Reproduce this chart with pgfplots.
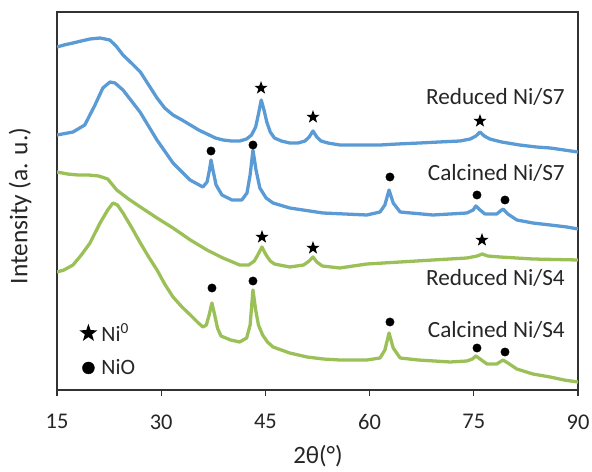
\documentclass[border=0pt]{standalone}
\usepackage{pgfplots}
\pgfplotsset{compat=1.18}
\usepackage{fontspec}
\setmainfont{Carlito}
\definecolor{cblue}{RGB}{91,155,213}
\definecolor{cgreen}{RGB}{155,192,88}
\definecolor{txt}{RGB}{38,38,38}
\definecolor{axisgray}{RGB}{50,50,50}
\pgfdeclareplotmark{fstar}{%
  \pgfpathmoveto{\pgfpointpolar{90}{\pgfplotmarksize}}%
  \pgfpathlineto{\pgfpointpolar{126}{0.4\pgfplotmarksize}}%
  \pgfpathlineto{\pgfpointpolar{162}{\pgfplotmarksize}}%
  \pgfpathlineto{\pgfpointpolar{198}{0.4\pgfplotmarksize}}%
  \pgfpathlineto{\pgfpointpolar{234}{\pgfplotmarksize}}%
  \pgfpathlineto{\pgfpointpolar{270}{0.4\pgfplotmarksize}}%
  \pgfpathlineto{\pgfpointpolar{306}{\pgfplotmarksize}}%
  \pgfpathlineto{\pgfpointpolar{342}{0.4\pgfplotmarksize}}%
  \pgfpathlineto{\pgfpointpolar{18}{\pgfplotmarksize}}%
  \pgfpathlineto{\pgfpointpolar{54}{0.4\pgfplotmarksize}}%
  \pgfpathclose
  \pgfusepathqfill
}
\begin{document}
\begin{tikzpicture}
\path[use as bounding box] (-57bp,-82bp) rectangle (535bp,390bp);
\begin{axis}[
  at={(0,0)}, anchor=south west,
  scale only axis, width=521bp, height=378bp,
  xmin=15, xmax=90, ymin=0, ymax=378,
  xtick={15,30,45,60,75,90},
  ytick=\empty,
  axis line style={draw=axisgray, line width=1.6pt},
  tick style={draw=axisgray, line width=1.2pt},
  xtick pos=lower,
  tick align=outside,
  major tick length=6bp,
  /pgf/number format/assume math mode=true,
  tick label style={font=\fontsize{22.5}{27}\selectfont, text=txt},
  xticklabel style={yshift=-15bp},
  xlabel={2θ(°)},
  ylabel={Intensity (a. u.)},
  xlabel style={font=\fontsize{25}{30}\selectfont, text=txt,
    at={(axis description cs:0.501,-0.176)}, anchor=center, inner sep=0pt},
  ylabel style={font=\fontsize{25.5}{30}\selectfont, text=txt,
    at={(axis description cs:-0.071,0.487)}, anchor=center},
  legend style={at={(axis cs:18.2,40)}, anchor=west, draw=none, fill=none,
    inner sep=0pt, font=\fontsize{22}{26}\selectfont, text=txt, row sep=13pt,
    nodes={inner xsep=4pt}},
  legend cell align=left,
]
% Reduced Ni/S7
\addplot[cblue, line width=3.3pt, line join=round, forget plot] coordinates {
(15,343) (16,345) (17.3,347) (18.5,349) (19.75,351) (21.2,352) (22.6,350) (23.5,344)
(24.5,335) (25.7,327) (27,318) (28.2,305) (29.4,292) (30.5,282) (31.7,275) (33,270)
(34.2,265) (35.4,260) (36.6,256) (37.8,252) (38.9,250) (40.1,249) (41.3,249) (42.3,251)
(43.0,255) (43.6,263) (44.0,276) (44.4,290) (44.8,280) (45.2,268) (45.7,258) (46.3,252)
(47.3,249) (48.5,247) (49.7,247) (50.7,249) (51.3,253) (51.85,259) (52.4,253) (53.0,249)
(54.0,247) (55.7,245) (58,245) (61.5,245) (64,246) (67.2,247) (70,248) (73,249)
(74.5,251) (75.3,254) (75.9,258) (76.5,254) (77.3,251) (79,248) (81.6,245) (84,243)
(86,242) (88,240) (90,238)
};
% Calcined Ni/S7
\addplot[cblue, line width=3.3pt, line join=round, forget plot] coordinates {
(15,255) (17.3,258) (19.0,265) (20.47,285) (21.6,302) (22.63,308) (23.35,307) (24.5,300)
(26.95,278) (29.39,250) (31.7,227) (34.15,210) (36.0,203) (36.6,208) (36.95,220) (37.17,230)
(37.45,220) (37.9,205) (38.75,195) (40.2,190) (41.6,190) (42.35,197) (42.8,215) (43.21,240)
(43.65,220) (44.2,202) (45.1,192) (46.1,187) (48.5,182) (53.3,177) (59.6,175) (61.5,178)
(62.2,185) (62.8,200) (63.4,187) (64.4,178) (69.1,175) (74,177) (74.9,180) (75.3,184)
(75.9,180) (76.6,176) (78.3,176) (79.2,181) (79.9,176) (81.2,170) (83.5,167) (86,165)
(88.4,163) (90,161)
};
% Reduced Ni/S4
\addplot[cgreen, line width=3.3pt, line join=round, forget plot] coordinates {
(15,218) (16.5,216) (18,215) (19.5,215) (21,214) (22.3,211) (23.6,200) (25.3,191) (27,183)
(29.4,172) (31.7,162) (34.2,150) (36.6,140) (38.9,132) (41.3,125) (42.6,125) (43.4,129)
(43.9,135) (44.5,143) (45.1,135) (45.7,129) (46.3,126) (48.5,123) (50.5,125) (51.3,129)
(51.85,133) (52.4,128) (53.2,124) (55.7,122) (59.6,126) (64.4,128) (69.1,130) (74,132)
(75.5,134) (76.2,136) (77,134) (78.8,133) (83.5,131) (90,130)
};
% Calcined Ni/S4
\addplot[cgreen, line width=3.3pt, line join=round, forget plot] coordinates {
(15,118) (16,120) (17.3,125) (18.5,135) (19.75,147) (21.2,167) (22.3,180) (23.06,187)
(23.7,185) (24.5,177) (25.7,163) (27,147) (28.2,133) (29.4,120) (30.5,106) (31.7,93)
(33,83) (34.2,75) (35.2,68) (36.0,63) (36.5,65) (36.9,75) (37.3,87) (37.7,75)
(38.1,62) (38.6,54) (40,50) (41.3,48) (42.3,52) (42.8,65) (43.21,100) (43.6,80)
(44.0,65) (44.6,55) (45.3,48) (46.1,43) (48.5,37) (51,33) (53.3,31) (55.7,30)
(59.6,30) (61.5,32) (62.2,40) (62.8,57) (63.4,42) (64.4,32) (67,30) (71.6,28)
(74,29) (74.8,31) (75.3,34) (75.9,31) (76.9,26) (78.3,26) (79.2,30) (79.9,27)
(81.2,21) (83.5,16) (86,13) (88,10) (90,8)
};
% Ni0 stars
\addplot[only marks, mark=fstar, mark size=7pt, black,
  legend image post style={mark size=9.5pt}] coordinates {
(44.37,302) (51.85,273) (75.89,269) (44.51,153) (51.85,142) (76.18,150)
};
\addlegendentry{Ni\textsuperscript{0}}
% NiO dots
\addplot[only marks, mark=*, mark size=4.2pt, black,
  legend image post style={mark size=6pt}] coordinates {
(37.17,239) (43.21,245) (62.93,213) (75.46,195) (79.49,190)
(37.31,102) (43.21,109) (62.93,68) (75.46,42) (79.49,38)
};
\addlegendentry{NiO}
\node[anchor=east, font=\fontsize{23.3}{28}\selectfont, text=txt] at (axis cs:88.6,293) {Reduced Ni/S7};
\node[anchor=east, font=\fontsize{23.3}{28}\selectfont, text=txt] at (axis cs:88.6,217) {Calcined Ni/S7};
\node[anchor=east, font=\fontsize{23.3}{28}\selectfont, text=txt] at (axis cs:88.6,112) {Reduced Ni/S4};
\node[anchor=east, font=\fontsize{23.3}{28}\selectfont, text=txt] at (axis cs:88.6,60) {Calcined Ni/S4};
\end{axis}
\end{tikzpicture}
\end{document}
